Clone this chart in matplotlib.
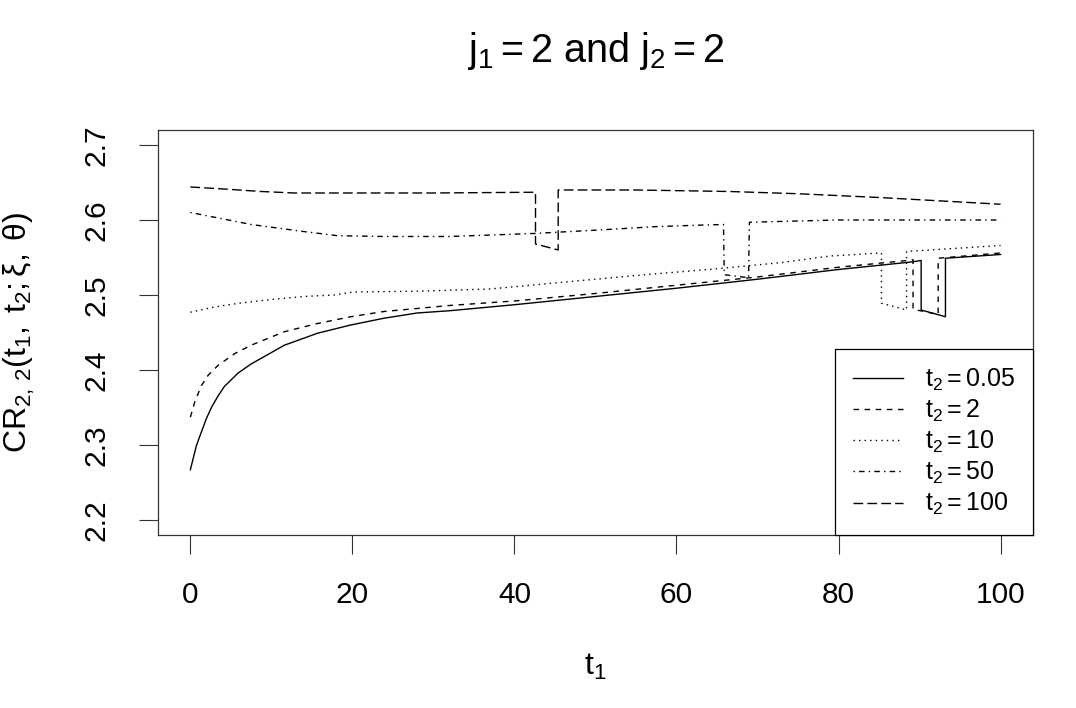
import matplotlib
matplotlib.use('Agg')
import matplotlib.pyplot as plt

plt.rcParams['font.family'] = ['Liberation Sans', 'DejaVu Sans']
plt.rcParams['mathtext.fontset'] = 'custom'
plt.rcParams['mathtext.rm'] = 'Liberation Sans'
plt.rcParams['mathtext.it'] = 'Liberation Sans'
plt.rcParams['mathtext.bf'] = 'Liberation Sans:bold'

# t2 = 0.05 (solid)
x_005 = [0, 0.74, 1.35, 1.97, 2.6, 3.4, 4.2, 5.9, 7.5, 11.6, 15.7, 19.8, 23.9, 28, 32, 40, 50, 60, 70, 80, 89,
         90.2, 90.2, 93.2, 93.2, 100]
y_005 = [2.267, 2.299, 2.317, 2.335, 2.350, 2.365, 2.378, 2.396, 2.408, 2.433, 2.449, 2.460, 2.469, 2.476, 2.479,
         2.487, 2.498, 2.509, 2.521, 2.534, 2.544, 2.546, 2.480, 2.471, 2.549, 2.554]

# t2 = 2 (dashed)
x_2 = [0, 0.53, 1.35, 2.2, 3.4, 5.5, 7.5, 11.6, 15.7, 19.8, 23.9, 28, 32, 40, 50, 60, 70, 80, 88.5, 89.2, 89.2,
       92.3, 92.3, 100]
y_2 = [2.337, 2.357, 2.379, 2.393, 2.406, 2.422, 2.433, 2.451, 2.462, 2.471, 2.478, 2.482, 2.486, 2.492, 2.502,
       2.513, 2.524, 2.537, 2.546, 2.547, 2.481, 2.474, 2.549, 2.556]

# t2 = 10 (dotted)
x_10 = [0, 3, 6, 10, 14, 17.8, 20, 28, 37, 45, 55, 65, 72.8, 79, 85.3, 85.3, 88.4, 88.4, 100]
y_10 = [2.477, 2.484, 2.489, 2.494, 2.498, 2.500, 2.504, 2.505, 2.508, 2.516, 2.526, 2.535, 2.543, 2.552, 2.556,
        2.489, 2.480, 2.558, 2.566]

# t2 = 50 (dot-dash)
x_50 = [0, 7.5, 13.7, 18.2, 23.9, 32, 42.4, 51, 57.2, 62.5, 65.8, 65.9, 68.9, 69, 80, 100]
y_50 = [2.610, 2.594, 2.585, 2.579, 2.578, 2.578, 2.582, 2.587, 2.591, 2.593, 2.594, 2.527, 2.523, 2.597, 2.600, 2.600]

# t2 = 100 (long dash)
x_100 = [0, 4.6, 8.7, 12.8, 20, 30, 42.6, 42.6, 45.4, 45.4, 55, 66.5, 75, 85, 100]
y_100 = [2.644, 2.641, 2.638, 2.636, 2.636, 2.636, 2.637, 2.568, 2.560, 2.640, 2.640, 2.638, 2.635, 2.630, 2.621]

labels = [r'$\mathrm{t}_2 = 0.05$', r'$\mathrm{t}_2 = 2$', r'$\mathrm{t}_2 = 10$',
          r'$\mathrm{t}_2 = 50$', r'$\mathrm{t}_2 = 100$']
# R lty 1..5
styles = ['-', (0, (4, 4)), (0, (1, 3)), (0, (1, 3, 4, 3)), (0, (7, 3))]

fig = plt.figure(figsize=(10.76, 7.08), dpi=100)
ax = fig.add_axes([0.1468, 0.2444, 0.8132, 0.572])

series = [(x_005, y_005), (x_2, y_2), (x_10, y_10), (x_50, y_50), (x_100, y_100)]
for (xs, ys), ls, lab in zip(series, styles, labels):
    ax.plot(xs, ys, color='black', linestyle=ls, linewidth=1.0, label=lab)

ax.set_xlim(-4, 104)
ax.set_ylim(2.18, 2.72)
ax.set_xticks([0, 20, 40, 60, 80, 100])
ax.set_yticks([2.2, 2.3, 2.4, 2.5, 2.6, 2.7])
ax.set_yticklabels(['2.2', '2.3', '2.4', '2.5', '2.6', '2.7'], rotation=90, va='center')
ax.tick_params(direction='out', length=14, width=0.8, labelsize=21.5, color='#333333')
ax.tick_params(axis='x', pad=19)
ax.tick_params(axis='y', pad=20)
for s in ax.spines.values():
    s.set_linewidth(0.9)
    s.set_color('#333333')

ax.set_xlabel(r'$\mathrm{t}_1$', fontsize=23, labelpad=31)
ax.set_ylabel(r'$\mathrm{CR}_{2,\,2}(\mathrm{t}_1,\;\mathrm{t}_2;\xi,\;\theta)$', fontsize=23, labelpad=33)
# R centres the main title over the plot region
ax.text(0.5, 1.195, r'$\mathrm{j}_1 = 2$ and $\mathrm{j}_2 = 2$', transform=ax.transAxes,
        ha='center', va='center', fontsize=28.5)

leg = ax.legend(loc='lower right', bbox_to_anchor=(1.0, 0.0), borderaxespad=0, fancybox=False,
                edgecolor='black', framealpha=1, fontsize=18, handlelength=2.0, handletextpad=0.9,
                labelspacing=0.2, borderpad=0.7)
leg.get_frame().set_linewidth(0.9)

fig.savefig('out.png', dpi=100)
